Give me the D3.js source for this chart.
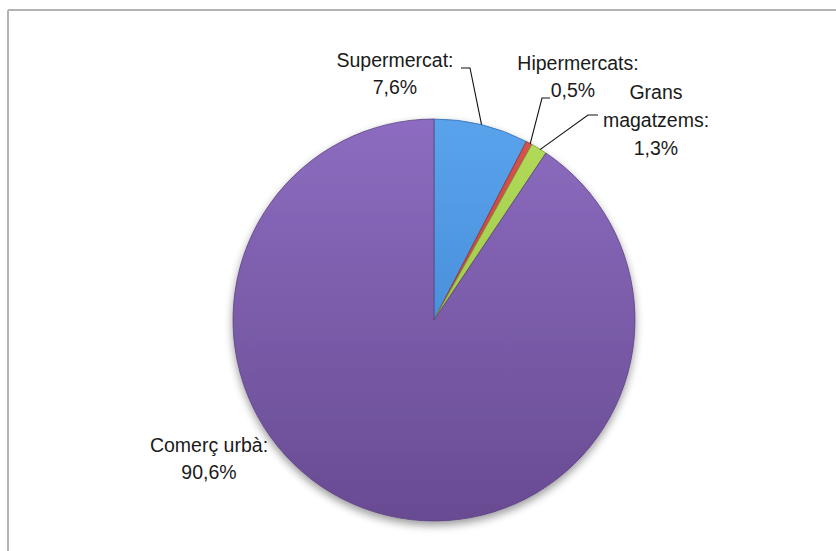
<!DOCTYPE html>
<html>
<head>
<meta charset="utf-8">
<script src="https://cdn.jsdelivr.net/npm/d3@7"></script>
<style>
  html, body { margin: 0; padding: 0; background: #fff; }
  svg { display: block; }
  text { font-family: "Liberation Sans Narrow", "Arial Narrow", "Liberation Sans", sans-serif; font-size: 19.5px; fill: #1a1a1a; }
</style>
</head>
<body>
<svg id="chart" width="836" height="551"></svg>
<script>
// ---- data ----
const categories = ["Supermercat", "Hipermercats", "Grans magatzems", "Comerç urbà"];
const values = [7.6, 0.5, 1.3, 90.6];
const valueLabels = ["7,6%", "0,5%", "1,3%", "90,6%"];
const labelLines = [
  ["Supermercat:", "7,6%"],
  ["Hipermercats:", "0,5%"],
  ["Grans", "magatzems:", "1,3%"],
  ["Comerç urbà:", "90,6%"]
];
const colorsTop = ["#5aa2ec", "#d9534e", "#b4dc5a", "#8c6cc0"];
const colorsBottom = ["#3a7fcb", "#b03a36", "#8fb840", "#684b92"];

// ---- layout ----
const W = 836, H = 551;
const cx = 434, cy = 320, R = 201;
const svg = d3.select("#chart");

// frame (top and left edges)
svg.append("line").attr("x1", 8).attr("y1", 10).attr("x2", W).attr("y2", 10)
  .attr("stroke", "#b3b3b3").attr("stroke-width", 2);
svg.append("line").attr("x1", 8).attr("y1", 10).attr("x2", 8).attr("y2", H)
  .attr("stroke", "#b3b3b3").attr("stroke-width", 2);

const defs = svg.append("defs");
categories.forEach((c, i) => {
  const g = defs.append("linearGradient").attr("id", "grad" + i)
    .attr("gradientUnits", "userSpaceOnUse")
    .attr("x1", 0).attr("y1", -R).attr("x2", 0).attr("y2", R);
  g.append("stop").attr("offset", "0%").attr("stop-color", colorsTop[i]);
  g.append("stop").attr("offset", "100%").attr("stop-color", colorsBottom[i]);
});
const shadow = defs.append("filter").attr("id", "shadow")
  .attr("x", "-10%").attr("y", "-10%").attr("width", "120%").attr("height", "125%");
shadow.append("feGaussianBlur").attr("in", "SourceAlpha").attr("stdDeviation", 4).attr("result", "b");
shadow.append("feOffset").attr("in", "b").attr("dx", 0).attr("dy", 4).attr("result", "o");
shadow.append("feComponentTransfer").attr("in", "o").attr("result", "s")
  .append("feFuncA").attr("type", "linear").attr("slope", 0.4);
const merge = shadow.append("feMerge");
merge.append("feMergeNode").attr("in", "s");
merge.append("feMergeNode").attr("in", "SourceGraphic");

const pie = d3.pie().sort(null).value(d => d)(values);
const arc = d3.arc().innerRadius(0).outerRadius(R);

const g = svg.append("g").attr("transform", `translate(${cx},${cy})`)
  .attr("filter", "url(#shadow)");
g.selectAll("path.slice").data(pie).join("path")
  .attr("class", "slice")
  .attr("d", arc)
  .attr("fill", (d, i) => `url(#grad${i})`)
  .attr("stroke", (d, i) => d3.color(colorsBottom[i]).darker(0.4))
  .attr("stroke-width", 0.8)
  .attr("stroke-linejoin", "round");

// ---- labels ----
const labelPos = [
  { x: 395, y: 67 },
  { x: 578, y: 70 },
  { x: 656, y: 99 },
  { x: 209, y: 452 }
];
const lineGap = 27;
const lbl = svg.append("g");
labelLines.forEach((lines, i) => {
  const t = lbl.append("text").attr("text-anchor", "middle");
  lines.forEach((s, k) => {
    t.append("tspan").attr("x", labelPos[i].x + (i === 1 && k === 1 ? -5 : 0))
      .attr("y", labelPos[i].y + k * (i === 2 ? 28 : lineGap)).text(s);
  });
});

// leader lines: from label to the slice rim (mid-angle point)
const rim = d => {
  const a = (d.startAngle + d.endAngle) / 2;
  return [cx + R * Math.sin(a), cy - R * Math.cos(a)];
};
const leaderStarts = [
  [[461, 68], [470, 68]],
  [[550, 98], [542, 98]],
  [[598, 115], [588, 115]]
];
leaderStarts.forEach((pts, i) => {
  const end = rim(pie[i]);
  const endPt = i === 0 ? end : [end[0] + 1, end[1] + 1];
  svg.append("path")
    .attr("d", d3.line()([...pts, endPt]))
    .attr("fill", "none").attr("stroke", "#111").attr("stroke-width", 1.1);
});
</script>
</body>
</html>
